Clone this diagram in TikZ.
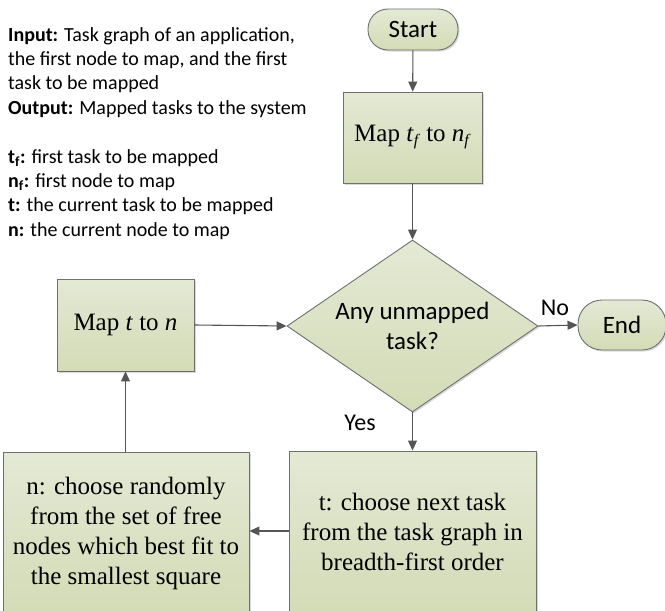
\documentclass[tikz,border=0pt]{standalone}
\usepackage{fontspec}
\setmainfont{Liberation Serif}
\newfontfamily\sansfont{Carlito}
\usetikzlibrary{shapes.geometric,arrows.meta,shadows}

\definecolor{boxtop}{HTML}{E4E9D4}
\definecolor{boxbot}{HTML}{D3DBB6}
\definecolor{boxline}{HTML}{6F6F6F}
\definecolor{arrowgray}{HTML}{555555}

% small italic subscript used in the first mapping step
\newcommand{\itsub}[1]{\raisebox{-4pt}{\fontsize{16}{16}\selectfont\textit{#1}}}

\tikzset{
  flowshape/.style={draw=boxline, line width=0.9pt, top color=boxtop, bottom color=boxbot,
    inner sep=0pt, align=center,
    drop shadow={shadow xshift=1.5pt, shadow yshift=-1.5pt, opacity=0.25, fill=black!60}},
  terminal/.style={flowshape, rectangle, rounded corners=20pt,
    font=\sansfont\fontsize{25}{30}\selectfont},
  procbox/.style={flowshape, rectangle,
    font=\fontsize{25}{30}\selectfont},
  decision/.style={flowshape, diamond, aspect=1.45,
    font=\sansfont\fontsize{25}{30}\selectfont},
  flowarrow/.style={draw=arrowgray, line width=1.1pt,
    -{Triangle[length=10pt,width=9pt]}},
  edgelabel/.style={font=\sansfont\fontsize{24}{28}\selectfont, inner sep=0pt},
}

\begin{document}
\begin{tikzpicture}[x=1pt,y=-1pt]
  \useasboundingbox (0,0) rectangle (665,611);

  % legend text on the upper left
  \node[anchor=north west, inner sep=0pt, align=left,
        font=\sansfont\fontsize{20}{24.4}\selectfont] (legend) at (8,27)
    {\textbf{Input:} Task graph of an application,\\
     the first node to map, and the first\\
     task to be mapped\\
     \textbf{Output:} Mapped tasks to the system\\[24.4pt]
     \textbf{t\textsubscript{f}:} first task to be mapped\\
     \textbf{n\textsubscript{f}:} first node to map\\
     \textbf{t:} the current task to be mapped\\
     \textbf{n:} the current node to map};

  % flowchart nodes
  \node[terminal, minimum width=90pt, minimum height=41pt] (start) at (413,29.5) {Start};
  \node[procbox, minimum width=139pt, minimum height=91pt] (mapf) at (412.5,137.5)
    {Map \textit{t}\itsub{f} to \textit{n}\itsub{f}};
  \node[decision, minimum width=251pt, minimum height=172pt] (check) at (412.5,326)
    {Any unmapped\\task?};
  \node[terminal, minimum width=88pt, minimum height=50pt, rounded corners=24pt] (finish) at (622,325) {End};
  \node[procbox, minimum width=137pt, minimum height=92pt] (mapn) at (125.5,325)
    {Map \textit{t} to \textit{n}};
  \node[procbox, minimum width=246pt, minimum height=162pt] (pickn) at (126,533)
    {n: choose randomly\\from the set of free\\nodes which best fit to\\the smallest square};
  \node[procbox, minimum width=247pt, minimum height=162pt] (pickt) at (412.5,532)
    {t: choose next task\\from the task graph in\\breadth-first order};

  % connectors
  \draw[flowarrow] (start) -- (mapf);
  \draw[flowarrow] (mapf) -- (check);
  \draw[flowarrow] (check.east) -- (finish.west);
  \draw[flowarrow] (check.south) -- (pickt.north);
  \draw[flowarrow] (pickt.west |- 0,531) -- (pickn.east |- 0,531);
  \draw[flowarrow] (pickn.north -| mapn.south) -- (mapn.south);
  \draw[flowarrow] (mapn.east) -- (check.west);

  % branch labels
  \node[edgelabel] (nolabel) at (555,308) {No};
  \node[edgelabel] (yeslabel) at (360,423) {Yes};
\end{tikzpicture}
\end{document}
